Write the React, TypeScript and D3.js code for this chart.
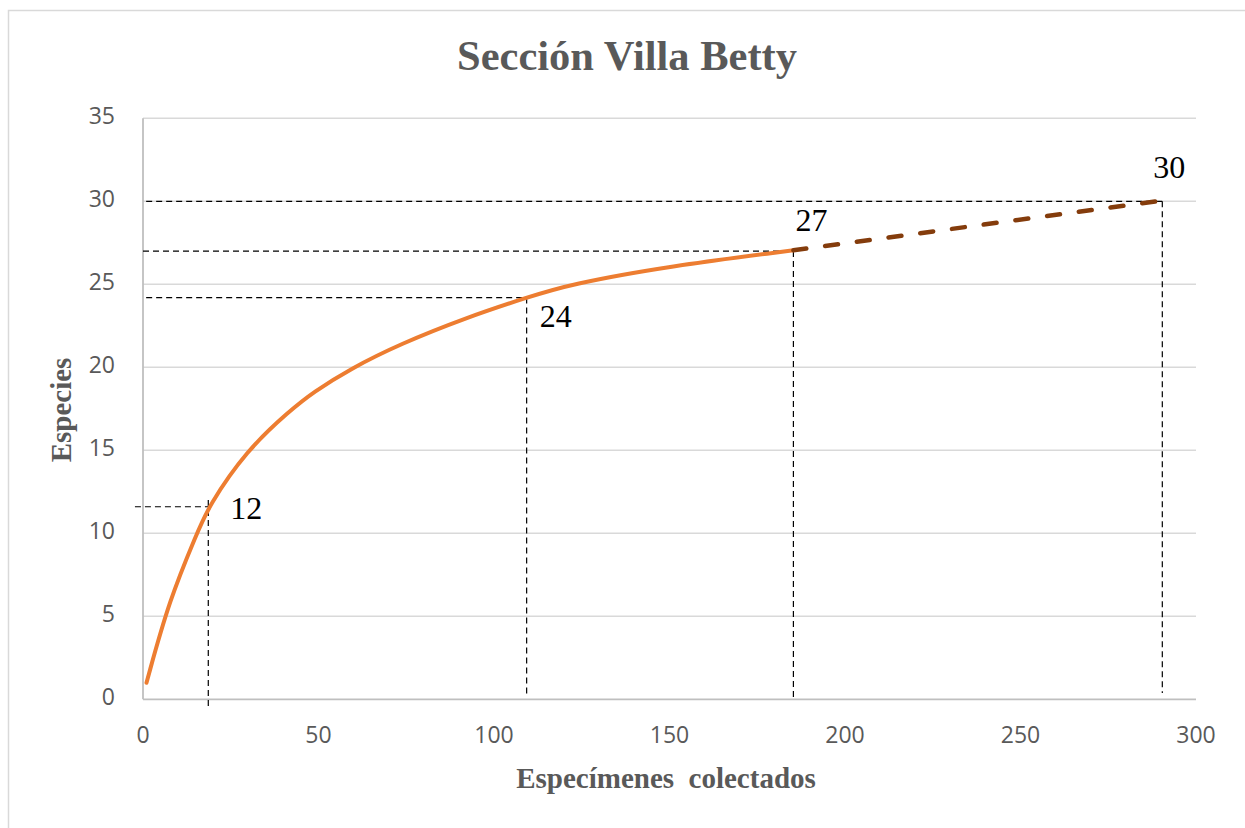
import React from "react";
import * as d3 from "d3";

// ---- data ----
const curveX = [1.0, 7.5, 15.4, 18.6, 29.5, 41.9, 48.5, 59.0, 73.2, 92.2, 109.3, 121.5, 150, 185.3];
const curveY = [1.0, 6.0, 10.0, 11.6, 15.0, 17.4, 18.5, 19.9, 21.4, 23.0, 24.2, 25.0, 26.1, 27.05];
const extX = [185.3, 290.4];
const extY = [27.05, 30.05];

const refX = [18.6, 109.3, 185.3, 290.4];
const refY = [11.6, 24.2, 27.0, 30.0];
const refLabels = ["12", "24", "27", "30"];
const refHStart = [-2.3, 0.9, 0.0, 0.9];
const refVTop = [12.0, 24.2, 27.0, 30.0];
const refVBottom = [-0.45, 0.25, 0.0, 0.38];

const xTicks = [0, 50, 100, 150, 200, 250, 300];
const yTicks = [0, 5, 10, 15, 20, 25, 30, 35];

const title = "Sección Villa Betty";
const xTitle = "Especímenes  colectados";
const yTitle = "Especies";

export default function App() {
  const W = 1245, H = 828;
  const left = 143, right = 1196, top = 118.3, bottom = 699.3;
  const x = d3.scaleLinear().domain([0, 300]).range([left, right]);
  const y = d3.scaleLinear().domain([0, 35]).range([bottom, top]);

  const pts: [number, number][] = curveX.map((v, i) => [v, curveY[i]]);
  const line = d3.line<[number, number]>().x(d => x(d[0])).y(d => y(d[1])).curve(d3.curveBasis);
  const ext: [number, number][] = extX.map((v, i) => [v, extY[i]]);
  const extLine = d3.line<[number, number]>().x(d => x(d[0])).y(d => y(d[1]));

  const labelOffsets = [[22, 12], [13, 29], [2, -20], [-9, -23]];
  const grey = "#595959";

  return (
    <svg width={W} height={H} style={{ position: "absolute", left: 0, top: 0 }}>
      <rect x={0} y={0} width={W} height={H} fill="#fff" />
      <rect x={8.5} y={10.5} width={1260} height={840} fill="none" stroke="#d9d9d9" strokeWidth={1.5} />

      {/* gridlines */}
      {yTicks.filter(t => t > 0).map(t => (
        <line key={"g" + t} x1={left} x2={right} y1={y(t)} y2={y(t)} stroke="#d9d9d9" strokeWidth={1.5} />
      ))}
      {/* axes */}
      <line x1={left} x2={left} y1={top} y2={bottom} stroke="#bfbfbf" strokeWidth={1.8} />
      <line x1={left} x2={right} y1={bottom} y2={bottom} stroke="#bfbfbf" strokeWidth={1.8} />

      {/* tick labels */}
      {yTicks.map(t => (
        <text key={"yl" + t} x={115} y={y(t) + 6} textAnchor="end" fontFamily="'Open Sans', sans-serif" fontSize={23} fill={grey}>{t}</text>
      ))}
      {xTicks.map(t => (
        <text key={"xl" + t} x={x(t)} y={743} textAnchor="middle" fontFamily="'Open Sans', sans-serif" fontSize={23} fill={grey}>{t}</text>
      ))}

      {/* reference dashed lines */}
      {refX.map((rx, i) => (
        <g key={"r" + i}>
          <line x1={x(refHStart[i])} x2={x(rx)} y1={y(refY[i])} y2={y(refY[i])} stroke="#000" strokeWidth={1.2} strokeDasharray="6 4" />
          <line x1={x(rx)} x2={x(rx)} y1={y(refVTop[i])} y2={y(refVBottom[i])} stroke="#000" strokeWidth={1.2} strokeDasharray="6 4" />
        </g>
      ))}

      {/* curve */}
      <path d={line(pts) || ""} fill="none" stroke="#ed7d31" strokeWidth={4} strokeLinecap="round" strokeLinejoin="round" />
      <path d={extLine(ext) || ""} fill="none" stroke="#843c0c" strokeWidth={4.5} strokeLinecap="round" strokeDasharray="13 19" />

      {/* value labels */}
      {refLabels.map((lab, i) => (
        <text key={"lab" + i} x={x(refX[i]) + labelOffsets[i][0]} y={y(refY[i]) + labelOffsets[i][1]}
          fontFamily="'Liberation Serif', 'Times New Roman', serif" fontSize={32} fill="#000">{lab}</text>
      ))}

      {/* titles */}
      <text x={627} y={70} textAnchor="middle" fontFamily="'Liberation Serif', 'Times New Roman', serif" fontWeight="bold" fontSize={42.5} fill={grey}>{title}</text>
      <text x={666} y={788} textAnchor="middle" fontFamily="'Liberation Serif', 'Times New Roman', serif" fontWeight="bold" fontSize={29} fill={grey} style={{ whiteSpace: "pre" }}>{xTitle}</text>
      <text transform={`translate(71,410) rotate(-90)`} textAnchor="middle" fontFamily="'Liberation Serif', 'Times New Roman', serif" fontWeight="bold" fontSize={29} fill={grey}>{yTitle}</text>
    </svg>
  );
}
